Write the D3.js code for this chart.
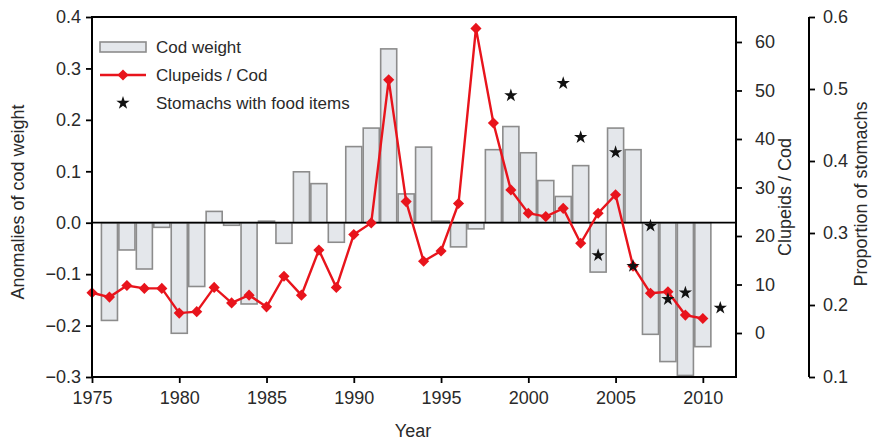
<!DOCTYPE html>
<html>
<head>
<meta charset="utf-8">
<script src="https://cdn.jsdelivr.net/npm/d3@7"></script>
<style>
  html, body { margin: 0; padding: 0; background: #fff; }
  svg { display: block; font-family: "Liberation Sans", Arial, Helvetica, sans-serif; }
</style>
</head>
<body>
<svg id="chart" width="873" height="443"></svg>
<script>
// ---- Data ----
const barYears = [1976,1977,1978,1979,1980,1981,1982,1983,1984,1985,1986,1987,1988,1989,1990,1991,1992,1993,1994,1995,1996,1997,1998,1999,2000,2001,2002,2003,2004,2005,2006,2007,2008,2009,2010];
const codWeight = [-0.19,-0.053,-0.09,-0.009,-0.215,-0.124,0.022,-0.005,-0.158,0.003,-0.04,0.099,0.076,-0.038,0.148,0.184,0.338,0.056,0.147,0.003,-0.047,-0.012,0.142,0.187,0.136,0.082,0.051,0.111,-0.096,0.184,0.142,-0.217,-0.27,-0.297,-0.241];

const lineYears = [1975,1976,1977,1978,1979,1980,1981,1982,1983,1984,1985,1986,1987,1988,1989,1990,1991,1992,1993,1994,1995,1996,1997,1998,1999,2000,2001,2002,2003,2004,2005,2006,2007,2008,2009,2010];
const clupeidsCod = [8.3,7.4,9.8,9.2,9.2,4.1,4.4,9.4,6.2,7.8,5.4,11.7,7.8,17.1,9.4,20.3,22.7,52.2,27.1,14.8,16.9,26.7,62.8,43.3,29.5,24.7,24.0,25.7,18.5,24.7,28.5,13.8,8.2,8.5,3.7,3.0];

const starYears = [1999,2002,2003,2004,2005,2006,2007,2008,2009,2011];
const stomachs = [0.491,0.508,0.433,0.269,0.412,0.254,0.310,0.208,0.217,0.196];

const xTicks = [1975,1980,1985,1990,1995,2000,2005,2010];
const yLeftTicks = [0.4,0.3,0.2,0.1,0.0,-0.1,-0.2,-0.3];
const yClupTicks = [0,10,20,30,40,50,60];
const yPropTicks = [0.1,0.2,0.3,0.4,0.5,0.6];

// ---- Layout ----
const svg = d3.select("#chart");
const L = 92, R = 736, T = 17, B = 377, P = 809;
const red = "#e8141c", textCol = "#2a2a2a";

const x = d3.scaleLinear().domain([1975, 2011.9]).range([L, R]);
const yL = d3.scaleLinear().domain([-0.3, 0.4]).range([B, T]);
const yC = d3.scaleLinear().domain([-9.07, 65.15]).range([B, T]);
const yP = d3.scaleLinear().domain([0.1, 0.6]).range([B, T]);

const step = x(1976) - x(1975);
const bw = step * 0.92;

// bars
svg.append("g").selectAll("rect").data(barYears).join("rect")
  .attr("x", (d) => x(d) - bw / 2)
  .attr("width", bw)
  .attr("y", (d, i) => Math.min(yL(codWeight[i]), yL(0)))
  .attr("height", (d, i) => Math.abs(yL(codWeight[i]) - yL(0)))
  .attr("fill", "#e4e7eb")
  .attr("stroke", "#8c8c8c")
  .attr("stroke-width", 1.6);

// zero line
svg.append("line").attr("x1", L).attr("x2", R).attr("y1", yL(0)).attr("y2", yL(0))
  .attr("stroke", "#000").attr("stroke-width", 1.8);

// red line
const lineGen = d3.line().x((d) => x(d[0])).y((d) => yC(d[1]));
const lineData = lineYears.map((d, i) => [d, clupeidsCod[i]]);
svg.append("path").datum(lineData).attr("d", lineGen)
  .attr("fill", "none").attr("stroke", red).attr("stroke-width", 2.4);
const diamondSym = d3.symbol().type(d3.symbolSquare).size(62);
svg.append("g").selectAll("path").data(lineData).join("path")
  .attr("d", diamondSym)
  .attr("transform", (d) => `translate(${x(d[0])},${yC(d[1])}) rotate(45)`)
  .attr("fill", red);

// stars
const star = d3.symbol().type(d3.symbolStar).size(55);
svg.append("g").selectAll("path").data(starYears).join("path")
  .attr("d", star)
  .attr("transform", (d, i) => `translate(${x(d)},${yP(stomachs[i])})`)
  .attr("fill", "#111");

// frame
svg.append("line").attr("x1", L).attr("x2", R).attr("y1", T).attr("y2", T)
  .attr("stroke", "#000").attr("stroke-width", 2);

function styleAxis(g) {
  g.select(".domain").remove();
  g.selectAll(".tick line").attr("stroke", "#000").attr("stroke-width", 1.8);
  g.selectAll(".tick text").attr("fill", textCol).style("font-size", "18px");
}

// left axis
svg.append("g").attr("transform", `translate(${L},0)`)
  .call(d3.axisLeft(yL).tickValues(yLeftTicks).tickFormat(d3.format(".1f")).tickSize(6).tickPadding(5))
  .call(styleAxis);
svg.append("line").attr("x1", L).attr("x2", L).attr("y1", T - 1).attr("y2", B + 1)
  .attr("stroke", "#000").attr("stroke-width", 2);

// bottom axis
svg.append("g").attr("transform", `translate(0,${B})`)
  .call(d3.axisBottom(x).tickValues(xTicks).tickFormat(d3.format("d")).tickSize(6).tickPadding(8))
  .call(styleAxis);
svg.append("line").attr("x1", L).attr("x2", R).attr("y1", B).attr("y2", B)
  .attr("stroke", "#000").attr("stroke-width", 2);

// clupeids axis
svg.append("g").attr("transform", `translate(${R},0)`)
  .call(d3.axisRight(yC).tickValues(yClupTicks).tickSize(6).tickPadding(13))
  .call(styleAxis);
svg.append("line").attr("x1", R).attr("x2", R).attr("y1", T - 1).attr("y2", B + 1)
  .attr("stroke", "#000").attr("stroke-width", 2);

// proportion axis
svg.append("g").attr("transform", `translate(${P},0)`)
  .call(d3.axisRight(yP).tickValues(yPropTicks).tickFormat(d3.format(".1f")).tickSize(6).tickPadding(8))
  .call(styleAxis);
svg.append("line").attr("x1", P).attr("x2", P).attr("y1", T).attr("y2", B)
  .attr("stroke", "#000").attr("stroke-width", 2);

// axis titles
svg.append("text").attr("transform", "translate(24,202) rotate(-90)")
  .attr("text-anchor", "middle").attr("fill", textCol).style("font-size", "18px")
  .text("Anomalies of cod weight");
svg.append("text").attr("transform", "translate(791,197) rotate(-90)")
  .attr("text-anchor", "middle").attr("fill", textCol).style("font-size", "18px")
  .text("Clupeids / Cod");
svg.append("text").attr("transform", "translate(867,194) rotate(-90)")
  .attr("text-anchor", "middle").attr("fill", textCol).style("font-size", "18px")
  .text("Proportion of stomachs");
svg.append("text").attr("x", 413).attr("y", 437)
  .attr("text-anchor", "middle").attr("fill", textCol).style("font-size", "18px")
  .text("Year");

// legend
const lg = svg.append("g");
lg.append("rect").attr("x", 100).attr("y", 42).attr("width", 46).attr("height", 10)
  .attr("fill", "#e4e7eb").attr("stroke", "#8c8c8c").attr("stroke-width", 1.6);
lg.append("line").attr("x1", 100).attr("x2", 146).attr("y1", 75).attr("y2", 75)
  .attr("stroke", red).attr("stroke-width", 2.4);
lg.append("path").attr("d", diamondSym)
  .attr("transform", "translate(123,75) rotate(45)").attr("fill", red);
lg.append("path").attr("d", star).attr("transform", "translate(123,103)").attr("fill", "#111");
const legendText = ["Cod weight", "Clupeids / Cod", "Stomachs with food items"];
lg.selectAll("text").data(legendText).join("text")
  .attr("x", 156).attr("y", (d, i) => 53 + i * 28)
  .attr("fill", textCol).style("font-size", "17px")
  .text((d) => d);
</script>
</body>
</html>
